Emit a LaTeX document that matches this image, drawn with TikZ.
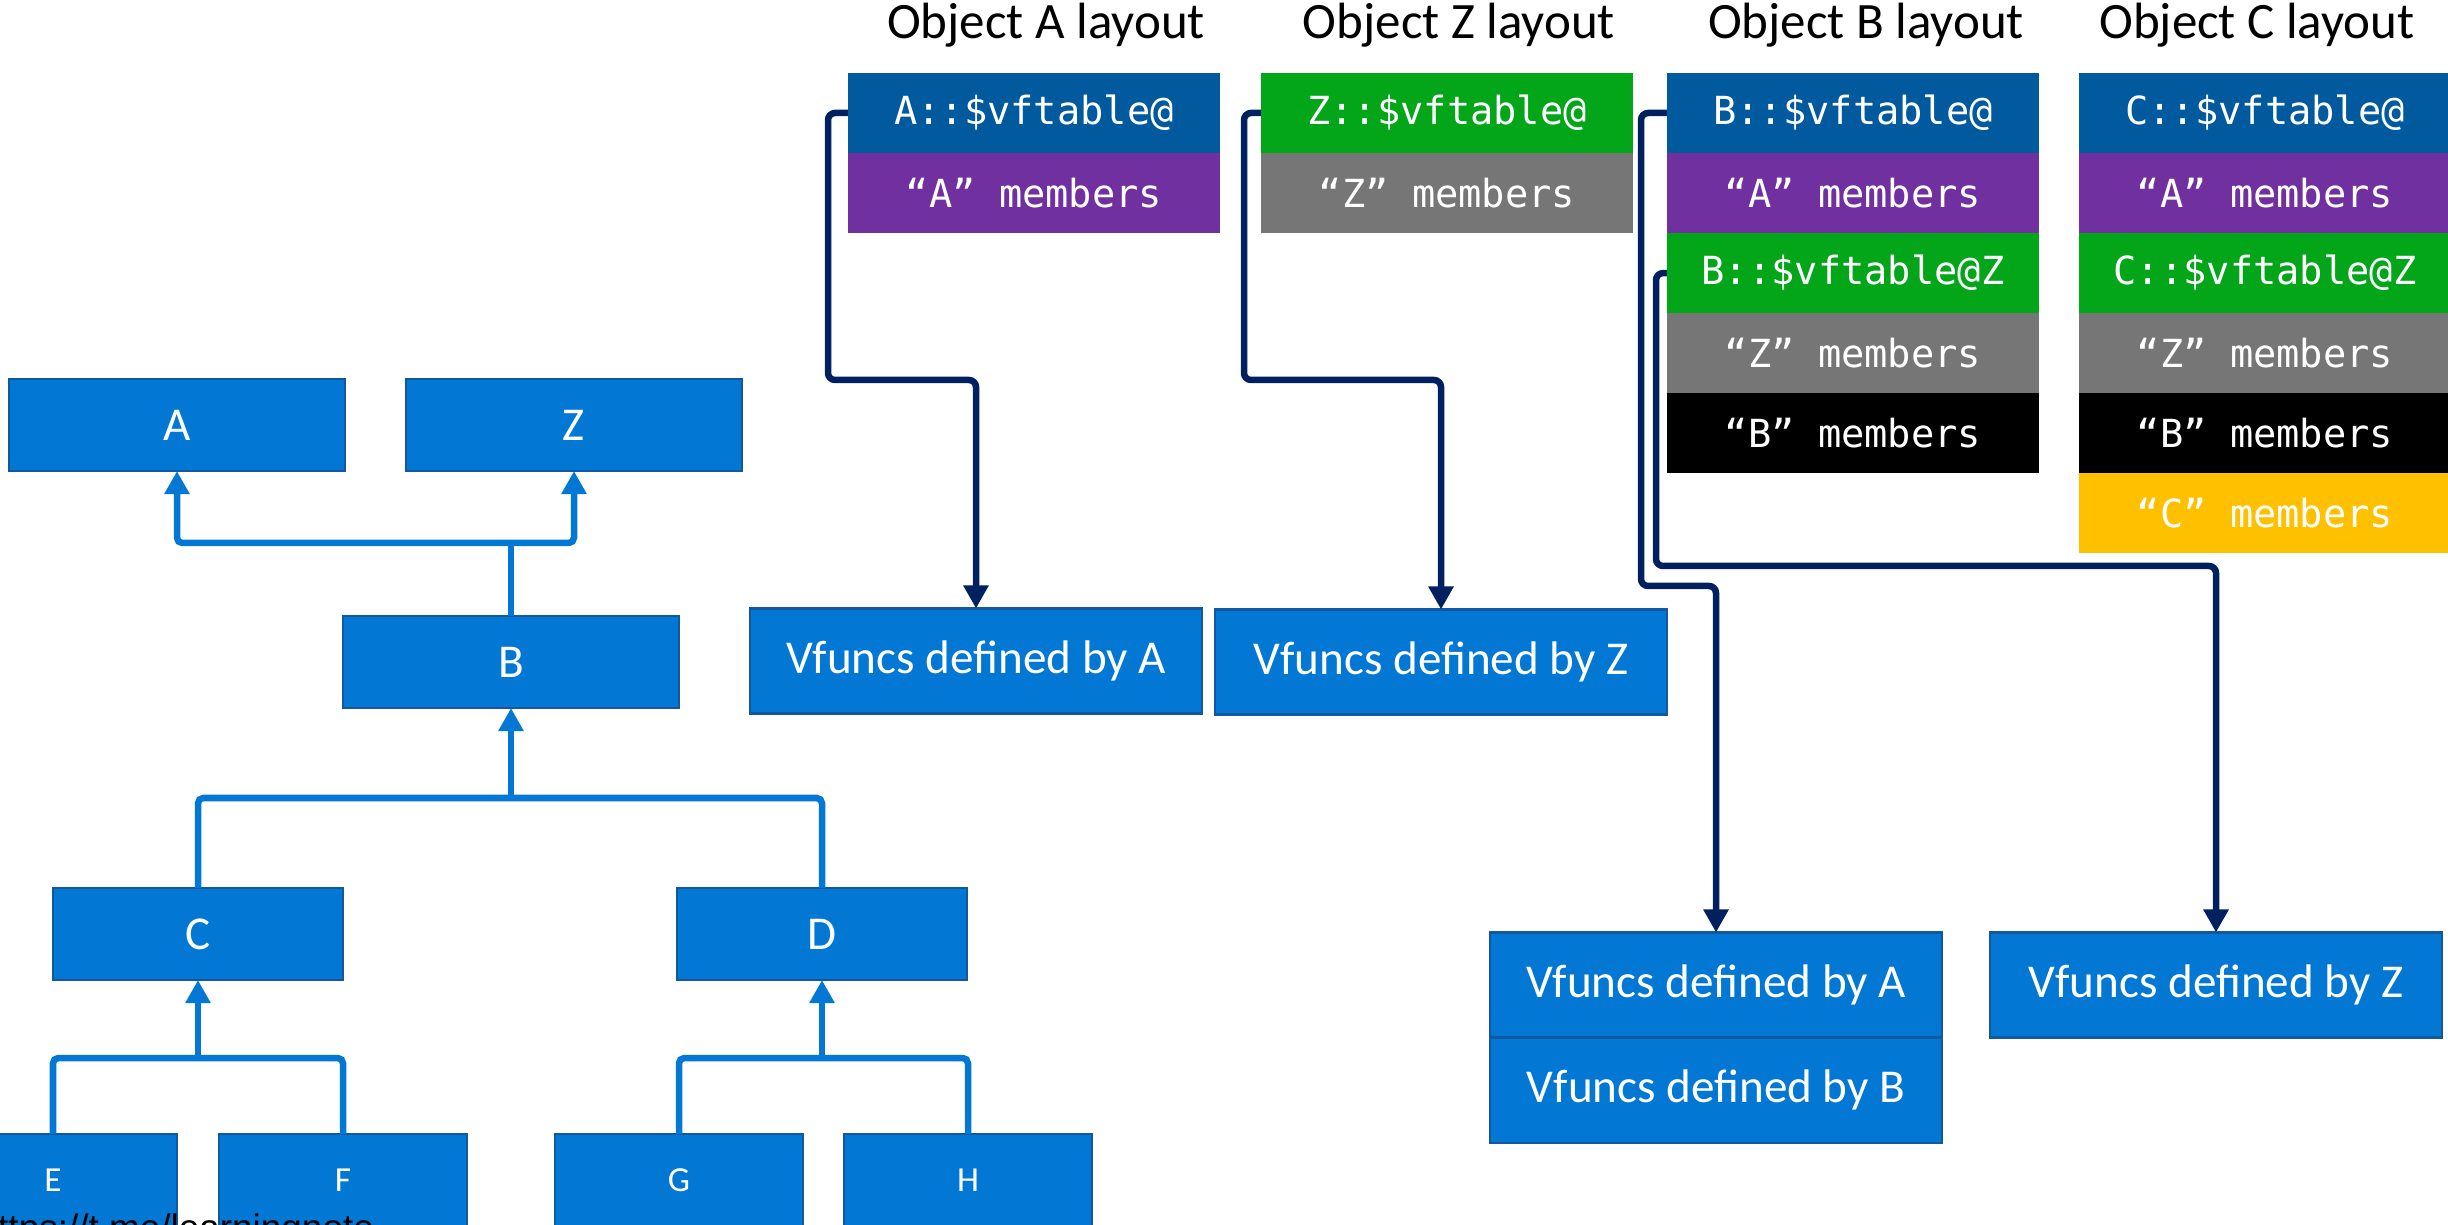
\documentclass[tikz,border=0pt]{standalone}
\usepackage{fontspec}
\setmainfont{Carlito}
\setmonofont{DejaVu Sans Mono}
\newfontfamily\urlfont{Liberation Sans}
\usetikzlibrary{positioning,arrows.meta}

\definecolor{clsblue}{RGB}{2,120,212}
\definecolor{clsedge}{RGB}{18,88,160}
\definecolor{vtblue}{RGB}{1,89,158}
\definecolor{mpurple}{RGB}{112,48,160}
\definecolor{vtgreen}{RGB}{2,166,24}
\definecolor{mgray}{RGB}{118,118,118}
\definecolor{myellow}{RGB}{255,192,0}
\definecolor{ptrnavy}{RGB}{0,32,96}

\begin{document}
\begin{tikzpicture}[x=0.01cm, y=-0.01cm,
    cls/.style={draw=clsedge, line width=0.6pt, fill=clsblue, text=white,
      minimum width=3.36cm, minimum height=0.92cm, inner sep=0pt, outer sep=0pt,
      font=\fontsize{13.4}{16}\selectfont},
    leaf/.style={cls, minimum width=2.48cm, font=\fontsize{10}{12}\selectfont},
    vfunc/.style={cls, minimum width=4.51cm, minimum height=1.05cm},
    slot/.style={fill=#1, text=white, minimum width=3.72cm, minimum height=0.8cm,
      inner sep=0pt, outer sep=0pt, font=\ttfamily\fontsize{11}{13}\selectfont},
    heading/.style={anchor=base, inner sep=0pt, font=\fontsize{14.5}{17}\selectfont},
    inh/.style={draw=clsblue, line width=0.065cm, rounded corners=1.5pt},
    upto/.style={-{Triangle[length=0.23cm, width=0.24cm]}},
    vptr/.style={draw=ptrnavy, line width=0.065cm, rounded corners=2pt,
      -{Triangle[length=0.23cm, width=0.24cm]}}]
  \useasboundingbox (0,0) rectangle (2448,1225);

  \node[cls] (A) at (177,425) {A};
  \node[cls] (Z) at (574,425) {Z};
  \node[cls] (B) at (511,662) {B};
  \node[cls, minimum width=2.89cm] (C) at (198,934) {C};
  \node[cls, minimum width=2.89cm] (D) at (822,934) {D};
  \node[leaf] (E) at (53,1180) {E};
  \node[leaf] (F) at (343,1180) {F};
  \node[leaf] (G) at (679,1180) {G};
  \node[leaf] (H) at (968,1180) {H};

  \coordinate (jab) at (511,543);
  \coordinate (jcd) at (511,798);
  \coordinate (jef) at (198,1058);
  \coordinate (jgh) at (822,1058);

  \draw[inh] (B.north) -- (jab);
  \draw[inh, upto] (jab) -| (A.south);
  \draw[inh, upto] (jab) -| (Z.south);
  \draw[inh] (C.north) |- (jcd) -| (D.north);
  \draw[inh, upto] (jcd) -- (B.south);
  \draw[inh] (E.north) |- (jef) -| (F.north);
  \draw[inh, upto] (jef) -- (C.south);
  \draw[inh] (G.north) |- (jgh) -| (H.north);
  \draw[inh, upto] (jgh) -- (D.south);

  \node[heading] (tA) at (1046,39) {Object A layout};
  \node[heading] (tZ) at (1459,39) {Object Z layout};
  \node[heading] (tB) at (1866,39) {Object B layout};
  \node[heading] (tC) at (2257,39) {Object C layout};

  \node[slot=vtblue] (avt) at (1034,113) {A::\$vftable@};
  \node[slot=mpurple, below=0pt of avt] (amem) {“A” members};

  \node[slot=vtgreen] (zvt) at (1447,113) {Z::\$vftable@};
  \node[slot=mgray, below=0pt of zvt] (zmem) {“Z” members};

  \node[slot=vtblue] (bvt) at (1853,113) {B::\$vftable@};
  \node[slot=mpurple, below=0pt of bvt] (bamem) {“A” members};
  \node[slot=vtgreen, below=0pt of bamem] (bvtz) {B::\$vftable@Z};
  \node[slot=mgray, below=0pt of bvtz] (bzmem) {“Z” members};
  \node[slot=black, below=0pt of bzmem] (bbmem) {“B” members};

  \node[slot=vtblue] (cvt) at (2265,113) {C::\$vftable@};
  \node[slot=mpurple, below=0pt of cvt] (camem) {“A” members};
  \node[slot=vtgreen, below=0pt of camem] (cvtz) {C::\$vftable@Z};
  \node[slot=mgray, below=0pt of cvtz] (czmem) {“Z” members};
  \node[slot=black, below=0pt of czmem] (cbmem) {“B” members};
  \node[slot=myellow, below=0pt of cbmem] (ccmem) {“C” members};

  \node[vfunc] (vfA) at (976,661) {Vfuncs defined by A};
  \node[vfunc] (vfZ) at (1441,662) {Vfuncs defined by Z};
  \node[vfunc] (bvfA) at (1716,985) {Vfuncs defined by A};
  \node[vfunc, below=0pt of bvfA] (bvfB) {Vfuncs defined by B};
  \node[vfunc] (cvfZ) at (2216,985) {Vfuncs defined by Z};

  \draw[vptr] (avt.west) -| (828,380) -| (vfA.north);
  \draw[vptr] (zvt.west) -| (1244,380) -| (vfZ.north);
  \draw[vptr] (bvt.west) -| (1641,586) -| (bvfA.north);
  \draw[vptr] (bvtz.west) -| (1656,566) -| (cvfZ.north);

  \node[anchor=base west, inner sep=0pt, font=\urlfont\fontsize{10.5}{12}\selectfont]
    (url) at (-23,1240) {https://t.me/learningnote};
\end{tikzpicture}
\end{document}
